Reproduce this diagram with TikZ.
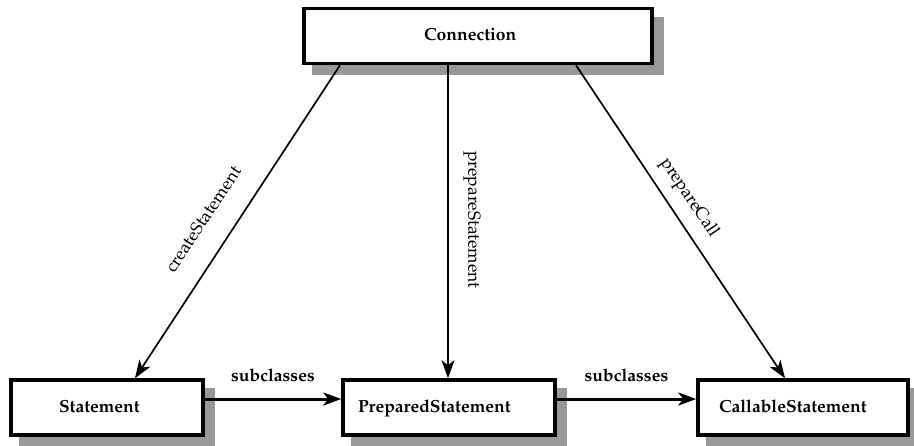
\documentclass[tikz,border=0pt]{standalone}
\usepackage[T1]{fontenc}
\usepackage{mathpazo}
\usetikzlibrary{arrows.meta,shadows}
\begin{document}
\begin{tikzpicture}[x=1pt,y=-1pt,
  box/.style={draw=black, line width=3.5pt, fill=white, inner ysep=0pt,
    minimum height=55pt, text height=13pt, text depth=4pt, align=left,
    font=\fontsize{17.5}{20}\selectfont\bfseries,
    general shadow={fill=black!40, draw=black!40, line width=3.5pt,
      shadow xshift=10pt, shadow yshift=-10pt}},
  sublbl/.style={font=\fontsize{17.5}{20}\selectfont\bfseries, inner sep=0pt},
  mlbl/.style={font=\fontsize{17.5}{20}\selectfont, inner sep=0pt},
  tipstyle/.style={-{Stealth[length=18pt,width=13pt,inset=5pt]}},
  diag/.style={tipstyle, line width=1.7pt},
  vert/.style={tipstyle, line width=2.5pt},
  horiz/.style={tipstyle, line width=3pt},
]
\fill[white] (0,0) rectangle (914,445);
\useasboundingbox (0,0) rectangle (914,445);

\node[box, minimum width=348pt, text width=108pt, inner xsep=120pt]
  (conn) at (478,36) {Connection};
\node[box, minimum width=192pt, text width=96pt, inner xsep=48pt]
  (stm) at (107,407.5) {Statement};
\node[box, minimum width=212pt, text width=182pt, inner xsep=15pt]
  (prep) at (449,407.5) {PreparedStatement};
\node[box, minimum width=210pt, text width=168pt, inner xsep=21pt]
  (call) at (803,407.5) {CallableStatement};

\draw[diag] ([xshift=-138pt]conn.south) -- ([xshift=28pt]stm.north);
\draw[vert] ([xshift=-30pt]conn.south) -- ([xshift=-1pt]prep.north);
\draw[diag] ([xshift=98pt]conn.south) -- ([xshift=-18pt]call.north);

\draw[horiz] ([yshift=8.5pt]stm.east) -- node[sublbl, midway, above=16pt] (sub1) {subclasses} ([yshift=8.5pt]prep.west);
\draw[horiz] ([yshift=8.5pt]prep.east) -- node[sublbl, midway, above=16pt] (sub2) {subclasses} ([yshift=8.5pt]call.west);

\node[mlbl, rotate=56.6] (lcreate) at (203,219) {createStatement};
\node[mlbl, rotate=-90] (lprep) at (472,220) {prepareStatement};
\node[mlbl, rotate=-56.1] (lcall) at (689,198) {prepareCall};
\end{tikzpicture}
\end{document}
